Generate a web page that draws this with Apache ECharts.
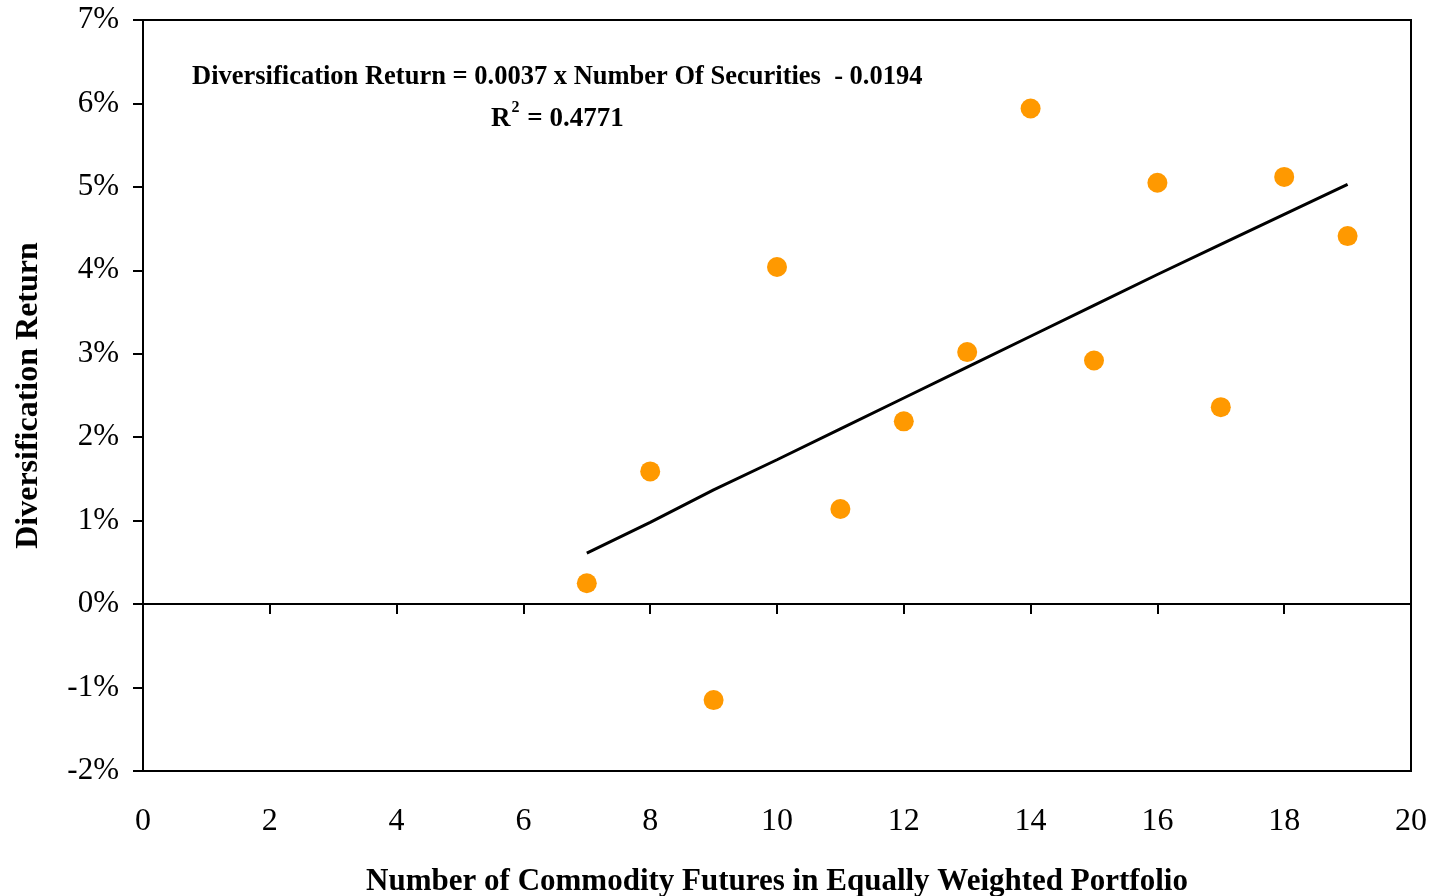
<!DOCTYPE html>
<html>
<head>
<meta charset="utf-8">
<script src="https://cdn.jsdelivr.net/npm/echarts@6/dist/echarts.min.js"></script>
<style>
  html, body { margin: 0; padding: 0; background: #fff; }
  #chart { width: 1433px; height: 896px; }
</style>
</head>
<body>
<div id="chart"></div>
<script>
// Number of commodity futures held in each equally weighted portfolio
const portfolioSizes = [7, 8, 9, 10, 11, 12, 13, 14, 15, 16, 17, 18, 19];
// Diversification return of each portfolio, in percent
const diversificationReturns = [0.25, 1.59, -1.15, 4.04, 1.14, 2.19, 3.02, 5.94, 2.92, 5.05, 2.36, 5.12, 4.41];
// Fitted linear trend at each portfolio size, in percent
const trendValues = [0.61, 0.98, 1.37, 1.73, 2.10, 2.47, 2.84, 3.21, 3.58, 3.95, 4.31, 4.67, 5.03];
// Axis settings
const xTicks = { min: 0, max: 20, step: 2 };
const yTicks = { min: -2, max: 7, step: 1 };

const FONT = '"Liberation Serif", "Times New Roman", serif';

const scatterData = portfolioSizes.map((n, i) => [n, diversificationReturns[i]]);
const trendData = portfolioSizes.map((n, i) => [n, trendValues[i]]);

const chart = echarts.init(document.getElementById('chart'));
chart.setOption({
  backgroundColor: '#ffffff',
  animation: false,
  textStyle: { fontFamily: FONT, color: '#000' },
  grid: {
    left: 143, right: 22, top: 20, bottom: 125,
    outerBoundsMode: 'none', containLabel: false,
    show: true, borderColor: '#000', borderWidth: 2, backgroundColor: 'transparent'
  },
  xAxis: [
    {
      type: 'value', position: 'bottom',
      min: xTicks.min, max: xTicks.max, interval: xTicks.step,
      axisLine: { onZero: false, lineStyle: { color: '#000', width: 2 } },
      axisTick: { show: false },
      splitLine: { show: false },
      axisLabel: { fontSize: 32, fontFamily: FONT, color: '#000', margin: 35 },
      name: 'Number of Commodity Futures in Equally Weighted Portfolio',
      nameLocation: 'middle', nameGap: 95,
      nameTextStyle: { fontSize: 31, fontWeight: 'bold', fontFamily: FONT, color: '#000' }
    },
    {
      // zero line carrying the downward tick marks
      type: 'value', position: 'bottom',
      min: xTicks.min, max: xTicks.max, interval: xTicks.step,
      axisLine: { onZero: true, lineStyle: { color: '#000', width: 2 } },
      axisTick: { show: true, inside: false, length: 10, lineStyle: { color: '#000', width: 2 } },
      splitLine: { show: false },
      axisLabel: { show: false }
    }
  ],
  yAxis: {
    type: 'value',
    min: yTicks.min, max: yTicks.max, interval: yTicks.step,
    axisLine: { show: true, onZero: false, lineStyle: { color: '#000', width: 2 } },
    axisTick: { show: true, length: 10, lineStyle: { color: '#000', width: 2 } },
    splitLine: { show: false },
    axisLabel: { fontSize: 31, fontFamily: FONT, color: '#000', margin: 24, formatter: '{value}%' },
    name: 'Diversification Return',
    nameLocation: 'middle', nameGap: 98,
    nameTextStyle: { fontSize: 32, fontWeight: 'bold', fontFamily: FONT, color: '#000' }
  },
  graphic: [
    {
      type: 'text', left: 192, top: 64,
      style: {
        text: 'Diversification Return = 0.0037 x Number Of Securities  - 0.0194',
        font: 'bold 26.5px ' + FONT, fill: '#000'
      }
    },
    {
      type: 'text', left: 491, top: 100,
      style: {
        text: '{b|R}{s|2}{b| = 0.4771}',
        rich: {
          b: { font: 'bold 27px ' + FONT, fill: '#000', verticalAlign: 'bottom' },
          s: { font: 'bold 16px ' + FONT, fill: '#000', verticalAlign: 'top', padding: [0, 1, 17, 1] }
        }
      }
    }
  ],
  series: [
    {
      type: 'line', data: trendData, xAxisIndex: 0,
      showSymbol: false, symbol: 'none',
      lineStyle: { color: '#000', width: 3 },
      z: 2
    },
    {
      type: 'scatter', data: scatterData, xAxisIndex: 0,
      symbol: 'circle', symbolSize: 20,
      itemStyle: { color: '#FF9900', opacity: 1 },
      z: 3
    }
  ]
});
</script>
</body>
</html>
